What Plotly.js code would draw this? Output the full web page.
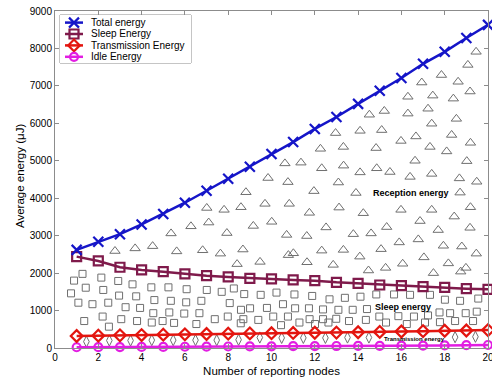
<!DOCTYPE html>
<html>
<head>
<meta charset="utf-8">
<script src="https://cdn.plot.ly/plotly-3.0.1.min.js"></script>
<style>
  html, body { margin: 0; padding: 0; background: #fff; }
  #chart { width: 492px; height: 380px; }
</style>
</head>
<body>
<div id="chart"></div>
<script>
// Reporting nodes on the x axis
var nodes = [1, 2, 3, 4, 5, 6, 7, 8, 9, 10, 11, 12, 13, 14, 15, 16, 17, 18, 19, 20];

// Average energy per series (uJ)
var totalEnergy = [2620, 2840, 3040, 3300, 3580, 3880, 4200, 4520, 4840, 5180,
                   5500, 5850, 6170, 6520, 6870, 7210, 7590, 7910, 8280, 8630];
var sleepEnergy = [2440, 2325, 2156, 2084, 2039, 1978, 1932, 1897, 1862, 1844,
                   1817, 1799, 1755, 1728, 1683, 1665, 1638, 1621, 1585, 1567];
var transmissionEnergy = [320, 330, 338, 346, 356, 365, 374, 383, 390, 395,
                          402, 408, 412, 420, 430, 440, 450, 460, 468, 478];
var idleEnergy = [20, 22, 25, 28, 30, 33, 36, 40, 42, 45,
                  48, 50, 53, 56, 59, 62, 66, 70, 75, 80];

var seriesNames = ['Total energy', 'Sleep Energy', 'Transmission Energy', 'Idle Energy'];

// Pattern marks filling the band between total and sleep energy
var receptionX = [2.77, 3.70, 4.51, 5.36, 5.62, 6.28, 6.82, 7.01, 7.10, 7.64, 7.81, 7.94, 8.41, 8.59, 8.68,
  8.82, 9.16, 9.47, 9.70, 9.84, 10.01, 10.62, 10.70, 10.76, 10.78, 10.82, 11.01, 11.36, 11.63, 11.64,
  11.75, 11.96, 12.26, 12.32, 12.32, 12.52, 12.85, 12.96, 13.09, 13.12, 13.32, 13.33, 13.32, 13.78, 13.90,
  14.08, 14.09, 14.09, 14.24, 14.48, 14.52, 14.60, 14.83, 14.86, 15.09, 15.21, 15.27, 15.32, 15.06, 15.47,
  15.90, 15.98, 15.98, 16.06, 16.30, 16.30, 16.40, 16.63, 16.67, 16.78, 16.86, 16.94, 17.04, 17.23, 17.32,
  17.40, 17.40, 17.40, 17.45, 17.48, 17.70, 17.85, 17.94, 18.09, 18.17, 18.32, 18.40, 18.44, 18.54, 18.62,
  18.68, 18.71, 18.74, 18.79, 18.98, 19.02, 19.07, 19.17, 19.19, 19.19, 19.17, 19.45, 19.46, 19.48];
var receptionY = [2590, 2660, 2720, 3060, 2580, 3250, 2610, 3740, 3350, 2520, 3690, 3070, 2240, 3760, 2630,
  4160, 3260, 2300, 3850, 4540, 3370, 4930, 3020, 4430, 2480, 3850, 2530, 4950, 2990, 2290,
  3610, 4190, 5320, 4800, 2600, 3220, 2220, 5740, 4420, 3750, 5370, 4870, 2620, 3040, 4140,
  2440, 5800, 4690, 3600, 2070, 6230, 3060, 5340, 4800, 5820, 6330, 2140, 3230, 2640, 4700,
  2820, 5530, 3690, 2250, 6710, 6260, 4570, 5000, 5650, 2900, 3390, 7090, 2420, 6390, 5370,
  4650, 5990, 3690, 6740, 2000, 3150, 7290, 2730, 5250, 2260, 5690, 6660, 3510, 6120, 7110,
  4530, 4150, 2040, 2710, 2140, 4990, 7560, 6850, 5480, 3760, 3210, 7910, 2520, 4440];

// Pattern marks filling the band between sleep and transmission energy
var sleepBandX = [1.27, 0.88, 2.14, 2.92, 3.58, 0.74, 1.42, 2.23, 1.08, 1.73, 2.46, 3.26, 3.93, 2.96, 3.75,
  4.45, 5.24, 6.08, 7.01, 7.70, 8.26, 8.74, 4.59, 5.35, 6.06, 6.76, 8.07, 4.54, 5.28, 5.97,
  6.67, 7.98, 1.35, 2.20, 3.06, 3.79, 4.47, 4.97, 5.50, 6.53, 7.38, 8.58, 2.49, 8.59, 9.01,
  9.50, 9.39, 9.79, 8.70, 10.23, 11.06, 11.88, 12.68, 13.39, 14.11, 14.84, 15.66, 16.40, 17.32, 18.01,
  18.71, 19.55, 10.53, 11.09, 11.73, 12.38, 13.09, 13.75, 14.41, 17.76, 18.25, 18.97, 19.48, 10.08, 10.76,
  11.29, 11.76, 12.38, 12.99, 13.58, 14.36, 14.98, 15.29, 15.86, 16.25, 16.58, 17.09, 17.23, 17.78, 18.48,
  19.31, 10.44, 12.01, 12.63];
var sleepBandY = [1980, 1800, 1880, 1790, 1700, 1460, 1610, 1550, 1210, 1170, 1210, 1090, 1070, 1400, 1380,
  1620, 1620, 1570, 1550, 1500, 1590, 1440, 1280, 1260, 1220, 1260, 1200, 930, 950, 920,
  930, 840, 720, 840, 770, 720, 680, 720, 670, 640, 770, 660, 570, 1020, 1060,
  1420, 750, 1070, 770, 1480, 1430, 1390, 1300, 1340, 1370, 1430, 1430, 1420, 1420, 1290,
  1260, 1320, 1170, 1060, 1060, 1030, 1020, 1020, 1040, 950, 930, 930, 970, 840, 840,
  680, 770, 770, 780, 720, 750, 840, 680, 850, 640, 840, 680, 870, 690, 720,
  720, 610, 640, 680];

// Pattern marks filling the band between transmission and idle energy
var transBandX = [1.45, 2.51, 3.49, 4.47, 5.46, 6.49, 7.47, 8.48, 9.46, 10.47, 11.47, 12.49, 13.51, 14.50, 18.48, 19.42];
var transBandY = [170, 200, 200, 210, 210, 210, 210, 220, 280, 270, 270, 270, 280, 280, 290, 300];

// Band labels
var bandLabels = ['Reception energy', 'Sleep energy', 'Transmission energy'];
var bandLabelX = [16.46, 16.09, 16.61];
var bandLabelY = [4134, 1104, 232];
var bandLabelSize = [9, 9, 6];

var FONT = 'Liberation Sans, Arial, Helvetica, sans-serif';
var GRAY = '#6f6f6f';
var colors = ['#1515c8', '#7f1a4b', '#e3150f', '#e21ee2'];
var symbols = ['x-thin-open', 'square-open', 'diamond-open', 'circle-open'];
var msizes = [10, 9, 9, 8];
var seriesData = [totalEnergy, sleepEnergy, transmissionEnergy, idleEnergy];

var traces = [];

traces.push({
  x: receptionX, y: receptionY, type: 'scatter', mode: 'markers', showlegend: false,
  hoverinfo: 'skip',
  marker: { symbol: 'triangle-up-open', size: 9, color: GRAY, line: { width: 1, color: GRAY } }
});
traces.push({
  x: sleepBandX, y: sleepBandY, type: 'scatter', mode: 'markers', showlegend: false,
  hoverinfo: 'skip',
  marker: { symbol: 'square-open', size: 7, color: GRAY, line: { width: 1, color: GRAY } }
});
traces.push({
  x: transBandX, y: transBandY, type: 'scatter', mode: 'markers', showlegend: false,
  hoverinfo: 'skip',
  marker: { symbol: 'diamond-tall-open', size: 8, color: GRAY, line: { width: 1, color: GRAY } }
});

// Main series (drawn from bottom to top so the total line sits above)
for (var i = seriesData.length - 1; i >= 0; i--) {
  traces.push({
    x: nodes, y: seriesData[i], type: 'scatter', mode: 'lines+markers', name: seriesNames[i],
    showlegend: false, cliponaxis: false,
    line: { color: colors[i], width: 2.5 },
    marker: { symbol: symbols[i], size: msizes[i], color: colors[i],
              line: { color: colors[i], width: 2.2 } }
  });
}

// Legend box drawn on a small inset axis pair (units are box pixels)
var plotL = 55, plotR = 488, plotT = 11, plotB = 348;
var boxL = 60, boxR = 191, boxT = 15, boxB = 63;
var pw = plotR - plotL, ph = plotB - plotT;
var legDomX = [(boxL - plotL) / pw, (boxR - plotL) / pw];
var legDomY = [1 - (boxB - plotT) / ph, 1 - (boxT - plotT) / ph];
var annotations = [];
for (var j = 0; j < seriesNames.length; j++) {
  var rowY = 22.6 + j * 11.4;
  traces.push({
    x: [65, 74, 83], y: [rowY, rowY, rowY], xaxis: 'x2', yaxis: 'y2',
    type: 'scatter', mode: 'lines+markers', showlegend: false, hoverinfo: 'skip',
    cliponaxis: false,
    line: { color: colors[j], width: 2.5 },
    marker: { symbol: symbols[j], size: msizes[j], color: colors[j], opacity: [0, 1, 0],
              line: { color: colors[j], width: 2.2 } }
  });
  annotations.push({
    x: 89, y: rowY, xref: 'x2', yref: 'y2', text: seriesNames[j], showarrow: false,
    xanchor: 'left', yanchor: 'middle',
    font: { family: FONT, size: 10, color: '#000' }
  });
}

for (var k = 0; k < bandLabels.length; k++) {
  annotations.push({
    x: bandLabelX[k], y: bandLabelY[k], xref: 'x', yref: 'y',
    text: '<b>' + bandLabels[k] + '</b>', showarrow: false,
    xanchor: 'center', yanchor: 'middle',
    font: { family: FONT, size: bandLabelSize[k], color: '#000' }
  });
}

// Vertical axis title
annotations.push({
  x: (20 - plotL) / pw, y: 1 - (176 - plotT) / ph, xref: 'paper', yref: 'paper',
  text: 'Average energy (\u03bcJ)', textangle: -90, showarrow: false,
  xanchor: 'center', yanchor: 'middle',
  font: { family: FONT, size: 11.5, color: '#000' }
});

var axisCommon = {
  showgrid: false, zeroline: false, showline: true, linecolor: '#8c8c8c', linewidth: 1,
  mirror: 'ticks', ticks: 'inside', ticklen: 4, tickcolor: '#8c8c8c', tickwidth: 1,
  ticklabeloverflow: 'allow',
  tickfont: { family: FONT, size: 10, color: '#000' }
};

var layout = {
  width: 492, height: 380,
  margin: { l: plotL, r: 492 - plotR, t: plotT, b: 380 - plotB, pad: 0 },
  paper_bgcolor: '#fff', plot_bgcolor: '#fff',
  showlegend: false,
  xaxis: Object.assign({}, axisCommon, {
    range: [0, 20], dtick: 2, tick0: 0,
    title: { text: 'Number of reporting nodes', font: { family: FONT, size: 11.5, color: '#000' }, standoff: 4 }
  }),
  yaxis: Object.assign({}, axisCommon, {
    range: [0, 9000], dtick: 1000, tick0: 0
  }),
  xaxis2: { domain: legDomX, range: [boxL, boxR], visible: false, fixedrange: true, anchor: 'y2' },
  yaxis2: { domain: legDomY, range: [boxB, boxT], visible: false, fixedrange: true, anchor: 'x2' },
  shapes: [{
    type: 'rect', xref: 'paper', yref: 'paper', layer: 'below',
    x0: legDomX[0], x1: legDomX[1], y0: legDomY[0], y1: legDomY[1],
    line: { color: '#8c8c8c', width: 1 }, fillcolor: '#fff'
  }],
  annotations: annotations
};

Plotly.newPlot('chart', traces, layout, { displayModeBar: false, staticPlot: true });
</script>
</body>
</html>
